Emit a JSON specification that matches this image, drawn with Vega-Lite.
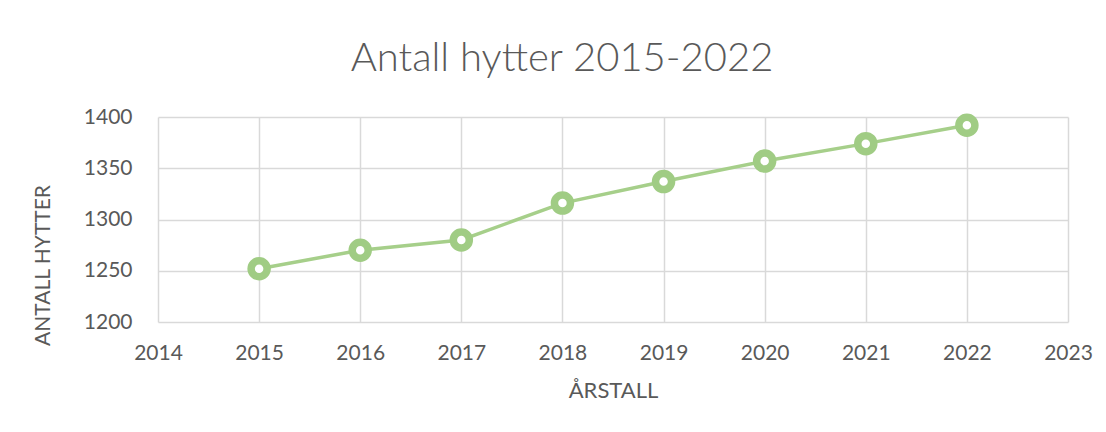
{
  "$schema": "https://vega.github.io/schema/vega-lite/v6.json",
  "width": 910,
  "height": 205,
  "autosize": {"type": "none"},
  "padding": {"left": 158, "top": 117, "right": 38, "bottom": 110},
  "background": "white",
  "title": {
    "text": "Antall hytter 2015-2022",
    "font": "Lato",
    "fontWeight": 300,
    "fontSize": 40,
    "color": "#595959",
    "anchor": "middle",
    "dx": -51,
    "offset": 23
  },
  "data": {
    "values": [
      {"year": 2015, "antall": 1252},
      {"year": 2016, "antall": 1270},
      {"year": 2017, "antall": 1280},
      {"year": 2018, "antall": 1316},
      {"year": 2019, "antall": 1337},
      {"year": 2020, "antall": 1357},
      {"year": 2021, "antall": 1374},
      {"year": 2022, "antall": 1392}
    ]
  },
  "config": {
    "view": {"stroke": null},
    "axis": {
      "labelFont": "Lato",
      "titleFont": "Lato",
      "labelColor": "#595959",
      "titleColor": "#595959",
      "labelFontSize": 21,
      "titleFontSize": 21,
      "titleFontWeight": "normal",
      "gridColor": "#D9D9D9",
      "gridWidth": 1.5,
      "gridOpacity": 1,
      "domain": false,
      "ticks": false,
      "labelFlush": false
    }
  },
  "encoding": {
    "x": {
      "field": "year",
      "type": "quantitative",
      "scale": {"domain": [2014, 2023], "nice": false, "zero": false},
      "axis": {
        "title": "ÅRSTALL",
        "titleFontSize": 22,
        "values": [2014, 2015, 2016, 2017, 2018, 2019, 2020, 2021, 2022, 2023],
        "format": "d",
        "labelPadding": 20,
        "titlePadding": 17
      }
    },
    "y": {
      "field": "antall",
      "type": "quantitative",
      "scale": {"domain": [1200, 1400], "nice": false, "zero": false},
      "axis": {
        "title": "ANTALL HYTTER",
        "values": [1200, 1250, 1300, 1350, 1400],
        "format": "d",
        "labelPadding": 26,
        "titlePadding": 30,
        "titleY": 148
      }
    }
  },
  "layer": [
    {
      "mark": {"type": "line", "color": "#A6CF8A", "strokeWidth": 3.5}
    },
    {
      "mark": {
        "type": "point",
        "filled": true,
        "fill": "white",
        "stroke": "#A0CC84",
        "strokeWidth": 7.5,
        "size": 256,
        "opacity": 1
      }
    }
  ]
}
